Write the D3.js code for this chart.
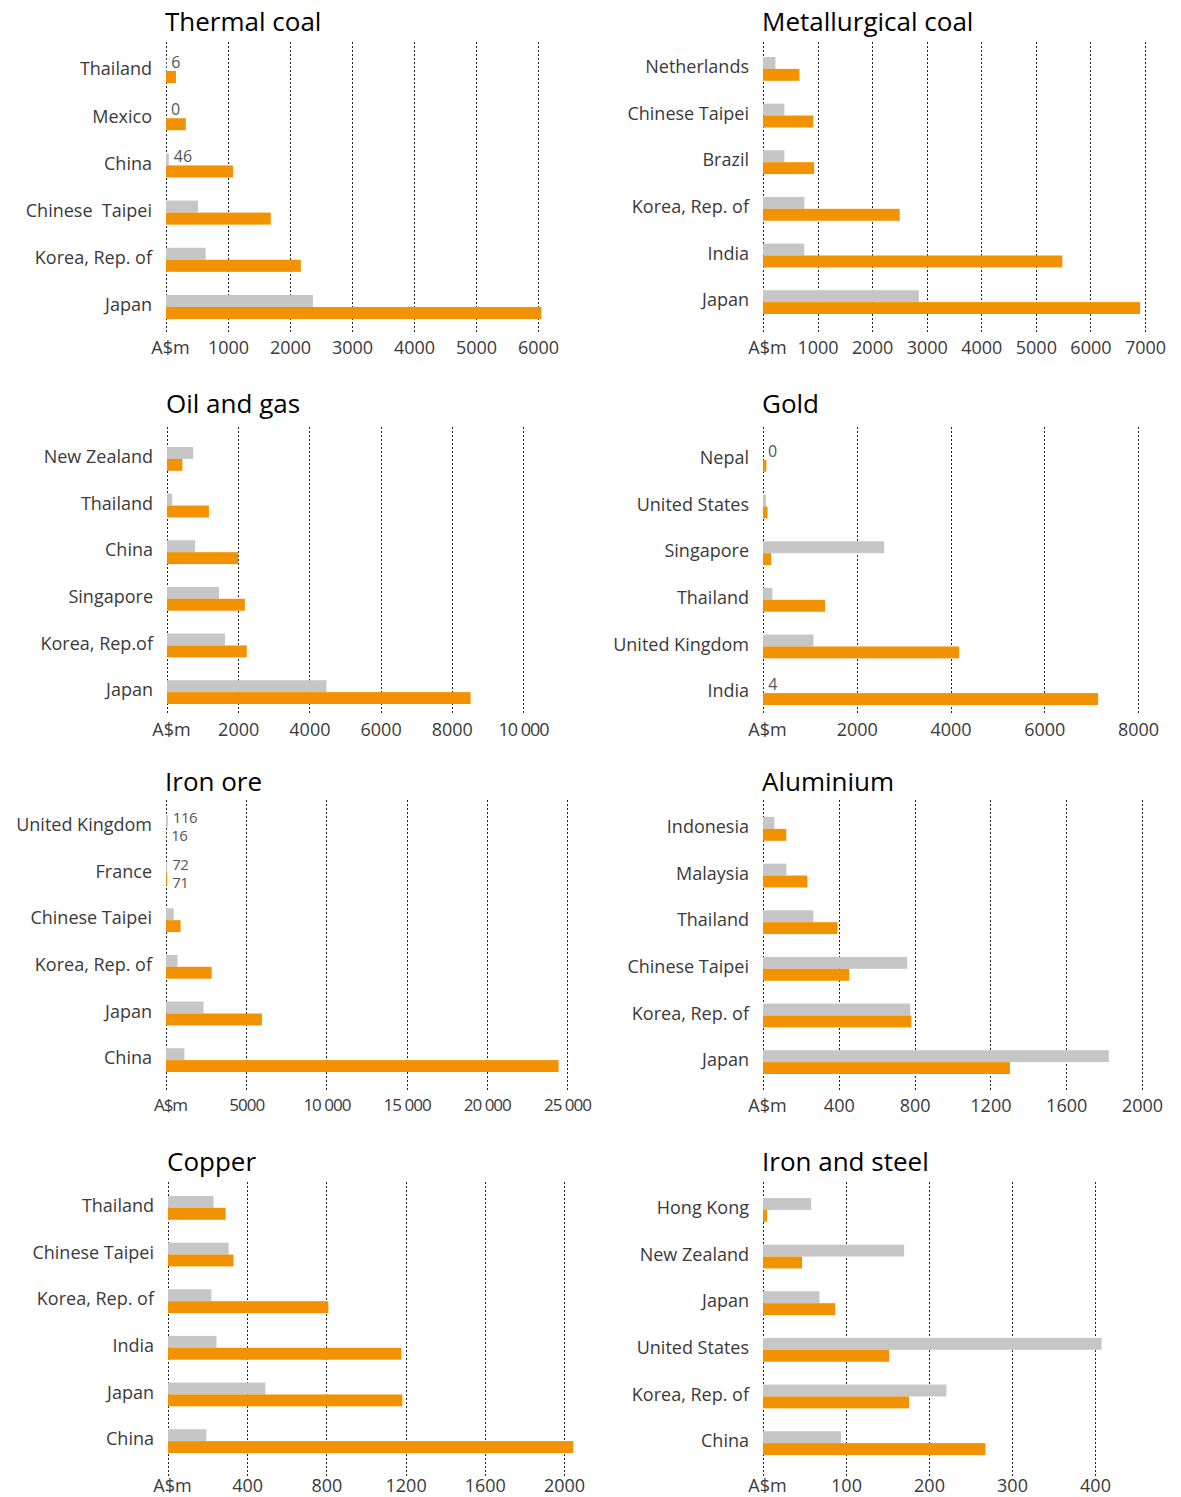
<!DOCTYPE html>
<html><head><meta charset="utf-8">
<script src="https://cdn.jsdelivr.net/npm/d3@7"></script>
<style>
body{margin:0;background:#fff}
svg{display:block}
text{font-family:"Open Sans",sans-serif}
</style>
</head><body>
<svg id="chart" width="1181" height="1497"></svg>
<script>
// ---------- DATA ----------
const seriesKeys = ["prev", "curr"];

const thermalCats = ["Thailand", "Mexico", "China", "Chinese  Taipei", "Korea, Rep. of", "Japan"];
const thermalPrev = [6, 0, 46, 515, 640, 2370];
const thermalCurr = [160, 320, 1080, 1690, 2175, 6055];
const thermalTicks = [0, 1000, 2000, 3000, 4000, 5000, 6000];
const thermalNotes = [[0, "prev"], [1, "prev"], [2, "prev"]];

const metCats = ["Netherlands", "Chinese Taipei", "Brazil", "Korea, Rep. of", "India", "Japan"];
const metPrev = [227, 392, 392, 757, 757, 2856];
const metCurr = [668, 922, 936, 2505, 5485, 6910];
const metTicks = [0, 1000, 2000, 3000, 4000, 5000, 6000, 7000];
const metNotes = [];

const oilCats = ["New Zealand", "Thailand", "China", "Singapore", "Korea, Rep.of", "Japan"];
const oilPrev = [736, 147, 789, 1462, 1630, 4480];
const oilCurr = [431, 1178, 1998, 2187, 2240, 8528];
const oilTicks = [0, 2000, 4000, 6000, 8000, 10000];
const oilNotes = [];

const goldCats = ["Nepal", "United States", "Singapore", "Thailand", "United Kingdom", "India"];
const goldPrev = [0, 64, 2586, 201, 1076, 4];
const goldCurr = [72, 96, 177, 1325, 4185, 7149];
const goldTicks = [0, 2000, 4000, 6000, 8000];
const goldNotes = [[0, "prev"], [5, "prev"]];

const ironCats = ["United Kingdom", "France", "Chinese Taipei", "Korea, Rep. of", "Japan", "China"];
const ironPrev = [116, 72, 478, 718, 2344, 1148];
const ironCurr = [16, 71, 909, 2847, 5981, 24474];
const ironTicks = [0, 5000, 10000, 15000, 20000, 25000];
const ironNotes = [[0, "prev"], [0, "curr"], [1, "prev"], [1, "curr"]];

const aluCats = ["Indonesia", "Malaysia", "Thailand", "Chinese Taipei", "Korea, Rep. of", "Japan"];
const aluPrev = [60, 123, 266, 761, 777, 1825];
const aluCurr = [123, 234, 393, 455, 783, 1303];
const aluTicks = [0, 400, 800, 1200, 1600, 2000];
const aluNotes = [];

const copperCats = ["Thailand", "Chinese Taipei", "Korea, Rep. of", "India", "Japan", "China"];
const copperPrev = [230, 306, 219, 245, 492, 194];
const copperCurr = [291, 331, 810, 1179, 1184, 2047];
const copperTicks = [0, 400, 800, 1200, 1600, 2000];
const copperNotes = [];

const steelCats = ["Hong Kong", "New Zealand", "Japan", "United States", "Korea, Rep. of", "China"];
const steelPrev = [58, 170, 68, 408, 221, 94];
const steelCurr = [5, 47, 87, 152, 176, 268];
const steelTicks = [0, 100, 200, 300, 400];
const steelNotes = [];

const titles = ["Thermal coal", "Metallurgical coal", "Oil and gas", "Gold", "Iron ore", "Aluminium", "Copper", "Iron and steel"];
const unitLabel = "A$m";

// ---------- LAYOUT (positions only) ----------
const rows = [
  {titleY: 31, gridTop: 42, gridBottom: 332, tickY: 355},
  {titleY: 413, gridTop: 427, gridBottom: 714, tickY: 737},
  {titleY: 791, gridTop: 800, gridBottom: 1092, tickY: 1113},
  {titleY: 1171, gridTop: 1182, gridBottom: 1477, tickY: 1493}
];
const panels = [
  {cats: thermalCats, prev: thermalPrev, curr: thermalCurr, ticks: thermalTicks, notes: thermalNotes, row: 0, x0: 166, xEnd: 538, bandTop: 59, bandBottom: 319},
  {cats: metCats, prev: metPrev, curr: metCurr, ticks: metTicks, notes: metNotes, row: 0, x0: 763, xEnd: 1145, bandTop: 57, bandBottom: 314},
  {cats: oilCats, prev: oilPrev, curr: oilCurr, ticks: oilTicks, notes: oilNotes, row: 1, x0: 167, xEnd: 523, bandTop: 447, bandBottom: 704},
  {cats: goldCats, prev: goldPrev, curr: goldCurr, ticks: goldTicks, notes: goldNotes, row: 1, x0: 763, xEnd: 1138, bandTop: 448, bandBottom: 705},
  {cats: ironCats, prev: ironPrev, curr: ironCurr, ticks: ironTicks, notes: ironNotes, row: 2, x0: 166, xEnd: 567, bandTop: 815, bandBottom: 1072, condensed: true},
  {cats: aluCats, prev: aluPrev, curr: aluCurr, ticks: aluTicks, notes: aluNotes, row: 2, x0: 763, xEnd: 1142, bandTop: 817, bandBottom: 1074},
  {cats: copperCats, prev: copperPrev, curr: copperCurr, ticks: copperTicks, notes: copperNotes, row: 3, x0: 168, xEnd: 564, bandTop: 1196, bandBottom: 1453},
  {cats: steelCats, prev: steelPrev, curr: steelCurr, ticks: steelTicks, notes: steelNotes, row: 3, x0: 763, xEnd: 1095, bandTop: 1198, bandBottom: 1455}
];

const colors = {prev: "#c5c6c5", curr: "#f39200"};
const textColor = "#3a3a3a";

function fmt(d) {
  return d >= 10000 ? d3.format(",")(d).replace(",", " ") : String(d);
}

const svg = d3.select("#chart");

panels.forEach((p, i) => {
  const r = rows[p.row];
  const maxTick = p.ticks[p.ticks.length - 1];
  const x = d3.scaleLinear().domain([0, maxTick]).range([p.x0, p.xEnd]);
  const y = d3.scaleBand().domain(p.cats).range([p.bandTop, p.bandBottom]).paddingInner(0.49).paddingOuter(0);
  const ys = d3.scaleBand().domain(seriesKeys).range([0, y.bandwidth()]);
  const g = svg.append("g");

  // title
  g.append("text").attr("x", p.x0 - 1).attr("y", r.titleY)
    .attr("font-size", 26).attr("fill", "#000").text(titles[i]);

  // gridlines (dotted)
  g.append("g").selectAll("line").data(p.ticks).join("line")
    .attr("x1", d => Math.round(x(d)) + 0.5).attr("x2", d => Math.round(x(d)) + 0.5)
    .attr("y1", r.gridTop).attr("y2", r.gridBottom)
    .attr("stroke", "#222").attr("stroke-width", 1).attr("stroke-dasharray", "2,2");

  // tick labels via axis
  const axis = d3.axisBottom(x).tickValues(p.ticks).tickSize(0).tickPadding(0)
    .tickFormat(d => d === 0 ? unitLabel : fmt(d));
  const ax = g.append("g").attr("transform", `translate(0,${r.tickY - 14})`).call(axis);
  ax.select(".domain").remove();
  ax.selectAll("text")
    .attr("font-family", '"Open Sans", sans-serif')
    .attr("font-size", p.condensed ? 17 : 18)
    .attr("letter-spacing", d => (p.condensed || d >= 10000) ? "-1px" : null)
    .style("white-space", "pre")
    .attr("fill", textColor)
    .attr("dx", d => d === 0 ? 4 : 0);

  // category labels
  g.append("g").selectAll("text").data(p.cats).join("text")
    .attr("x", p.x0 - 14).attr("y", d => y(d) + y.bandwidth() / 2 - 2)
    .attr("dy", "0.35em").attr("text-anchor", "end")
    .attr("font-size", 18).attr("fill", textColor)
    .style("white-space", "pre").text(d => d);

  // bars
  const rowsData = p.cats.map((c, k) => ({cat: c, prev: p.prev[k], curr: p.curr[k]}));
  const grp = g.append("g").selectAll("g").data(rowsData).join("g")
    .attr("transform", d => `translate(0,${y(d.cat)})`);
  grp.selectAll("rect").data(d => seriesKeys.map(s => ({s, v: d[s]}))).join("rect")
    .attr("x", x(0)).attr("y", d => ys(d.s))
    .attr("width", d => x(d.v) - x(0)).attr("height", ys.bandwidth())
    .attr("fill", d => colors[d.s]);

  // value notes for tiny bars
  g.append("g").selectAll("text").data(p.notes).join("text")
    .attr("x", d => Math.max(x(p[d[1]][d[0]]), x(0)) + 5)
    .attr("y", d => y(p.cats[d[0]]) + ys(d[1]) + ys.bandwidth() / 2 + (d[1] === "prev" ? -3 : 3))
    .attr("dy", "0.35em")
    .attr("font-size", p.condensed ? 15 : 16)
    .attr("letter-spacing", p.condensed ? "-0.5px" : null)
    .attr("fill", "#555")
    .text(d => p[d[1]][d[0]]);
});
</script>
</body></html>
